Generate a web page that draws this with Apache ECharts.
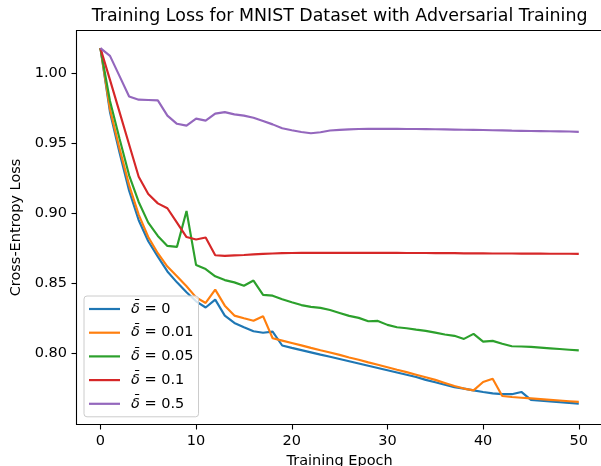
<!DOCTYPE html>
<html>
<head>
<meta charset="utf-8">
<script src="https://cdn.jsdelivr.net/npm/echarts@6/dist/echarts.min.js"></script>
<style>
html,body{margin:0;padding:0;background:#fff;}
#chart{width:601px;height:466px;}
</style>
</head>
<body>
<div id="chart"></div>
<script>
const epochs = [0,1,2,3,4,5,6,7,8,9,10,11,12,13,14,15,16,17,18,19,20,21,22,23,24,25,26,27,28,29,30,31,32,33,34,35,36,37,38,39,40,41,42,43,44,45,46,47,48,49,50];
const delta0 = [1.0176,0.972,0.943,0.916,0.895,0.880,0.869,0.8585,0.8507,0.8436,0.8372,0.8328,0.8384,0.8270,0.8218,0.8187,0.8159,0.8148,0.8156,0.8057,0.8040,0.8024,0.8008,0.7992,0.7977,0.7961,0.7945,0.7929,0.7913,0.7897,0.7881,0.7865,0.7849,0.7833,0.7812,0.7795,0.7777,0.7760,0.7750,0.7737,0.7726,0.7716,0.7710,0.7710,0.7726,0.7670,0.7664,0.7659,0.7653,0.7648,0.7643];
const delta001 = [1.0176,0.974,0.946,0.920,0.899,0.883,0.8715,0.862,0.855,0.8479,0.8400,0.8360,0.8455,0.8341,0.8270,0.8251,0.8234,0.8266,0.8109,0.8092,0.8075,0.8058,0.8040,0.8023,0.8007,0.7990,0.7972,0.7955,0.7937,0.7920,0.7902,0.7884,0.7867,0.7849,0.7831,0.7812,0.7790,0.7768,0.7750,0.7737,0.7797,0.7820,0.7697,0.7690,0.7685,0.7680,0.7675,0.7670,0.7665,0.7660,0.7655];
const delta005 = [1.0176,0.980,0.953,0.927,0.908,0.8933,0.8838,0.8767,0.8760,0.9016,0.8630,0.8602,0.8550,0.8523,0.8507,0.8483,0.8520,0.8418,0.8412,0.8386,0.8365,0.8345,0.8332,0.8325,0.8310,0.8289,0.8268,0.8254,0.8230,0.8232,0.8204,0.8187,0.8180,0.8170,0.8161,0.8149,0.8135,0.8126,0.8104,0.8140,0.8085,0.8090,0.8069,0.8052,0.8050,0.8047,0.8042,0.8037,0.8032,0.8027,0.8022];
const delta01 = [1.0176,0.995,0.9720,0.9490,0.9260,0.9137,0.9070,0.9035,0.8933,0.8830,0.8812,0.8827,0.8700,0.8696,0.8699,0.8702,0.8706,0.8710,0.8713,0.8715,0.8716,0.8717,0.8717,0.8717,0.8717,0.8717,0.8717,0.8717,0.8717,0.8717,0.8717,0.8717,0.8716,0.8716,0.8716,0.8715,0.8715,0.8715,0.8714,0.8714,0.8714,0.8713,0.8713,0.8713,0.8712,0.8712,0.8712,0.8711,0.8711,0.8711,0.8710];
const delta05 = [1.0176,1.0121,0.9977,0.9832,0.9809,0.9807,0.9804,0.9695,0.9637,0.9624,0.9674,0.9660,0.9710,0.9720,0.9704,0.9695,0.9680,0.9657,0.9633,0.9605,0.9591,0.9579,0.9570,0.9577,0.9589,0.9594,0.9597,0.9600,0.9601,0.9601,0.9601,0.9601,0.9600,0.9600,0.9599,0.9598,0.9597,0.9596,0.9595,0.9594,0.9593,0.9591,0.9590,0.9588,0.9587,0.9586,0.9585,0.9584,0.9583,0.9582,0.9580];
const deltaLabels = ['0','0.01','0.05','0.1','0.5'];
const seriesValues = [delta0, delta001, delta005, delta01, delta05];
const colors = ['#1f77b4','#ff7f0e','#2ca02c','#d62728','#9467bd'];
const xTicks = [0,10,20,30,40,50];
const yTicks = [0.80,0.85,0.90,0.95,1.00];
const titleText = 'Training Loss for MNIST Dataset with Adversarial Training';
const xLabel = 'Training Epoch';
const yLabel = 'Cross-Entropy Loss';

const FONT = 'DejaVu Sans';
const FS = 14.5;
const names = deltaLabels.map(d => 'δ̄ = ' + d);

const chart = echarts.init(document.getElementById('chart'), null, {renderer:'canvas'});
chart.setOption({
  animation: false,
  backgroundColor: '#ffffff',
  title: {
    text: titleText, left: 339.6, top: 7.5, padding: 0, textAlign: 'center',
    textStyle: {fontFamily: FONT, fontSize: 17.4, fontWeight: 'normal', color: '#000'}
  },
  grid: {
    left: 76.5, top: 30.5, width: 526.2, height: 394,
    outerBoundsMode: 'none', containLabel: false,
    show: true, borderColor: '#000', borderWidth: 1.1, backgroundColor: 'transparent'
  },
  legend: {
    orient: 'vertical', left: 84, top: 296,
    data: names,
    icon: 'rect', itemWidth: 31, itemHeight: 2.2, itemGap: 7.7,
    padding: [5, 5, 5, 5],
    borderColor: '#cccccc', borderWidth: 1, borderRadius: 3,
    backgroundColor: 'rgba(255,255,255,0.8)',
    formatter: function (name) {
      const v = name.split('= ')[1];
      return '{d|δ̄}{t| = ' + v + '}';
    },
    textStyle: {
      fontFamily: FONT, fontSize: FS, color: '#000', lineHeight: 16,
      rich: {
        d: {fontFamily: FONT, fontSize: FS, fontStyle: 'italic', color: '#000', padding: [0,0,0,6], lineHeight: 16},
        t: {fontFamily: FONT, fontSize: FS, color: '#000', lineHeight: 16}
      }
    }
  },
  xAxis: {
    type: 'value', min: -2.5, max: 52.5,
    name: xLabel, nameLocation: 'middle', nameGap: 27,
    nameTextStyle: {fontFamily: FONT, fontSize: FS, color: '#000'},
    axisLine: {show: false, onZero: false},
    axisTick: {show: true, length: 5, lineStyle: {color: '#000', width: 1.1}, customValues: xTicks},
    axisLabel: {show: true, margin: 9.5, fontFamily: FONT, fontSize: FS, color: '#000', customValues: xTicks,
      formatter: v => String(v)},
    splitLine: {show: false}
  },
  yAxis: {
    type: 'value', min: 0.7494, max: 1.0302,
    name: yLabel, nameLocation: 'middle', nameGap: 44,
    nameTextStyle: {fontFamily: FONT, fontSize: FS, color: '#000'},
    axisLine: {show: false, onZero: false},
    axisTick: {show: true, length: 5, lineStyle: {color: '#000', width: 1.1}, customValues: yTicks},
    axisLabel: {show: true, margin: 9.5, fontFamily: FONT, fontSize: FS, color: '#000', customValues: yTicks,
      formatter: v => v.toFixed(2)},
    splitLine: {show: false}
  },
  series: seriesValues.map((vals, i) => ({
    name: names[i],
    type: 'line',
    data: epochs.map((e, j) => [e, vals[j]]),
    showSymbol: false,
    symbol: 'none',
    color: colors[i],
    lineStyle: {width: 2.15, color: colors[i]},
    itemStyle: {color: colors[i]},
    z: 2 + i
  }))
});
</script>
</body>
</html>
